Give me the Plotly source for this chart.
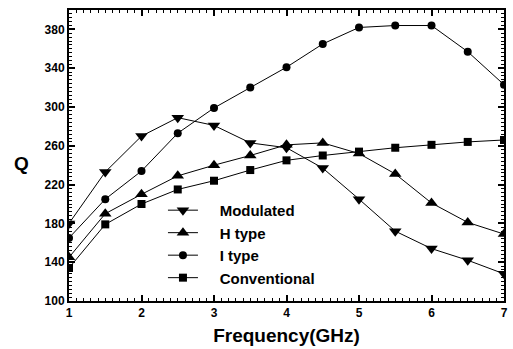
import plotly.graph_objects as go

freq = [1, 1.5, 2, 2.5, 3, 3.5, 4, 4.5, 5, 5.5, 6, 6.5, 7]
modulated = [180, 233, 270, 289, 281, 263, 258, 237, 205, 172, 154, 142, 128]
h_type = [145, 190, 210, 229, 240, 250, 261, 263, 252, 231, 201, 181, 169]
i_type = [165, 205, 234, 273, 299, 320, 341, 365, 382, 384, 384, 357, 323]
conventional = [134, 179, 200, 215, 224, 235, 245, 250, 254, 258, 261, 264, 266]

x_ticks = [1, 2, 3, 4, 5, 6, 7]
y_ticks = [100, 140, 180, 220, 260, 300, 340, 380]

series = [
    ("Modulated", modulated, "triangle-down", 11),
    ("H type", h_type, "triangle-up", 11),
    ("I type", i_type, "circle", 8),
    ("Conventional", conventional, "square", 8),
]

fig = go.Figure()
pad = "\u00a0" * 4
for name, vals, sym, sz in series:
    fig.add_trace(go.Scatter(
        x=freq, y=vals, name=pad + "<b>" + name + "</b>", mode="lines+markers",
        line=dict(color="black", width=1),
        marker=dict(symbol=sym, size=sz, color="black"),
    ))

font = "Liberation Sans, Arial, sans-serif"
axis_common = dict(
    showline=True, linecolor="black", linewidth=2, mirror="allticks",
    ticks="inside", ticklen=6, tickwidth=1.5, tickcolor="black",
    showgrid=False, zeroline=False, ticklabeloverflow="allow",
    tickfont=dict(family=font, size=12, color="black"),
)
fig.update_xaxes(
    range=[0.9999, 7.0001],
    tickmode="array", tickvals=x_ticks, ticktext=["<b>%g</b>" % v for v in x_ticks],
    minor=dict(dtick=0.1, tick0=1, ticklen=3, ticks="inside", tickcolor="black", tickwidth=1),
    title=dict(text="<b>Frequency(GHz)</b>", font=dict(family=font, size=19, color="black"), standoff=9),
    **axis_common,
)
fig.update_yaxes(
    range=[100, 400],
    tickmode="array", tickvals=y_ticks, ticktext=["<b>%g</b>" % v for v in y_ticks],
    minor=dict(dtick=4, tick0=100, ticklen=3, ticks="inside", tickcolor="black", tickwidth=1),
    **axis_common,
)
fig.add_annotation(
    text="<b>Q</b>", xref="paper", yref="paper", x=-0.109, y=0.474,
    xanchor="center", yanchor="middle", showarrow=False,
    font=dict(family=font, size=19, color="black"),
)
fig.update_layout(
    width=513, height=349,
    margin=dict(l=69, r=5, t=10, b=48),
    plot_bgcolor="white", paper_bgcolor="white",
    showlegend=True,
    legend=dict(
        x=0.216, y=0.368, xanchor="left", yanchor="top",
        bgcolor="rgba(0,0,0,0)",
        font=dict(family=font, size=15, color="black"),
        tracegroupgap=0,
    ),
)
fig.write_html(
    "out.html",
    config={"displayModeBar": False},
    post_script="document.body.style.margin='0px';document.body.style.overflow='hidden';",
)
